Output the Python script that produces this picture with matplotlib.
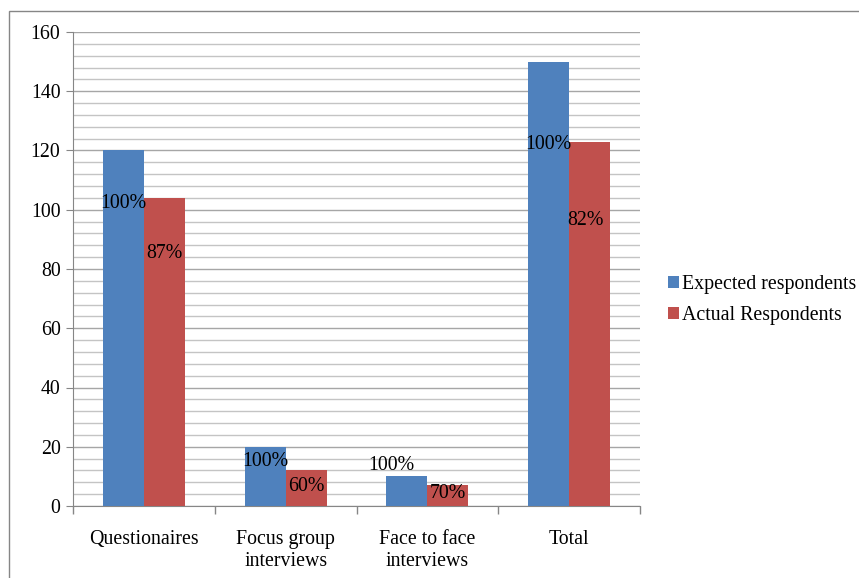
import numpy as np
import matplotlib.pyplot as plt
from matplotlib.patches import Rectangle
from matplotlib.ticker import MultipleLocator

plt.rcParams['font.family'] = ['Liberation Serif', 'DejaVu Serif']

categories = ['Questionaires', 'Focus group\ninterviews', 'Face to face\ninterviews', 'Total']
expected = [120, 20, 10, 150]
actual = [104, 12, 7, 123]
series_names = ['Expected respondents', 'Actual Respondents']

# where each percentage label sits (data units) relative to its bar
exp_label_y = [102.0, 15.0, 13.8, 122.0]
act_label_y = [85.3, 6.6, 4.2, 96.5]
exp_label_dx = [0, 0, -0.11, 0]
act_label_dx = [0, 0, 0, -0.03]

blue = '#4f81bd'
red = '#c0504d'
fs = 14.3

fig = plt.figure(figsize=(8.59, 5.78), dpi=100)
ax = fig.add_axes([73 / 859, 1 - 506 / 578, 567 / 859, 474 / 578])

x = np.arange(len(categories))
w = 0.29
ax.bar(x - w / 2, expected, w, color=blue, label=series_names[0], zorder=3)
ax.bar(x + w / 2, actual, w, color=red, label=series_names[1], zorder=3)

for i in range(len(categories)):
    ax.text(x[i] - w / 2 + exp_label_dx[i], exp_label_y[i],
            f'{round(expected[i] / expected[i] * 100)}%',
            ha='center', va='center', fontsize=fs, zorder=4)
    ax.text(x[i] + w / 2 + act_label_dx[i], act_label_y[i],
            f'{round(actual[i] / expected[i] * 100)}%',
            ha='center', va='center', fontsize=fs, zorder=4)

ax.set_xlim(-0.5, len(categories) - 0.5)
ax.set_ylim(0, 160)
ax.yaxis.set_major_locator(MultipleLocator(20))
ax.yaxis.set_minor_locator(MultipleLocator(4))
ax.grid(which='major', axis='y', color='#a6a6a6', linewidth=1.0, zorder=0)
ax.grid(which='minor', axis='y', color='#c4c4c4', linewidth=1.0, zorder=0)
ax.tick_params(axis='y', which='major', labelsize=fs, length=5, color='#868686', pad=4)
ax.tick_params(axis='y', which='minor', length=0)

# category labels in the middle, separator ticks at the edges
ax.set_xticks(x)
ax.set_xticklabels(categories, fontsize=fs, linespacing=1.25)
ax.tick_params(axis='x', which='major', length=0, pad=17)
ax.set_xticks(np.arange(len(categories) + 1) - 0.5, minor=True)
ax.tick_params(axis='x', which='minor', length=6, color='#868686', width=1)

for side in ['top', 'right']:
    ax.spines[side].set_visible(False)
for side in ['left', 'bottom']:
    ax.spines[side].set_color('#868686')

ax.legend(loc='center left', bbox_to_anchor=(650 / 859, 1 - 300 / 578),
          bbox_transform=fig.transFigure, frameon=False, fontsize=fs,
          handlelength=0.55, handleheight=0.55, handletextpad=0.15,
          labelspacing=0.6)

# thin frame around the chart
fig.patches.append(Rectangle((9 / 859, -0.05), 1.0, 1 + 0.05 - 11 / 578,
                             transform=fig.transFigure, fill=False,
                             edgecolor='#868686', linewidth=1.0))

fig.savefig('out.png', dpi=100)
